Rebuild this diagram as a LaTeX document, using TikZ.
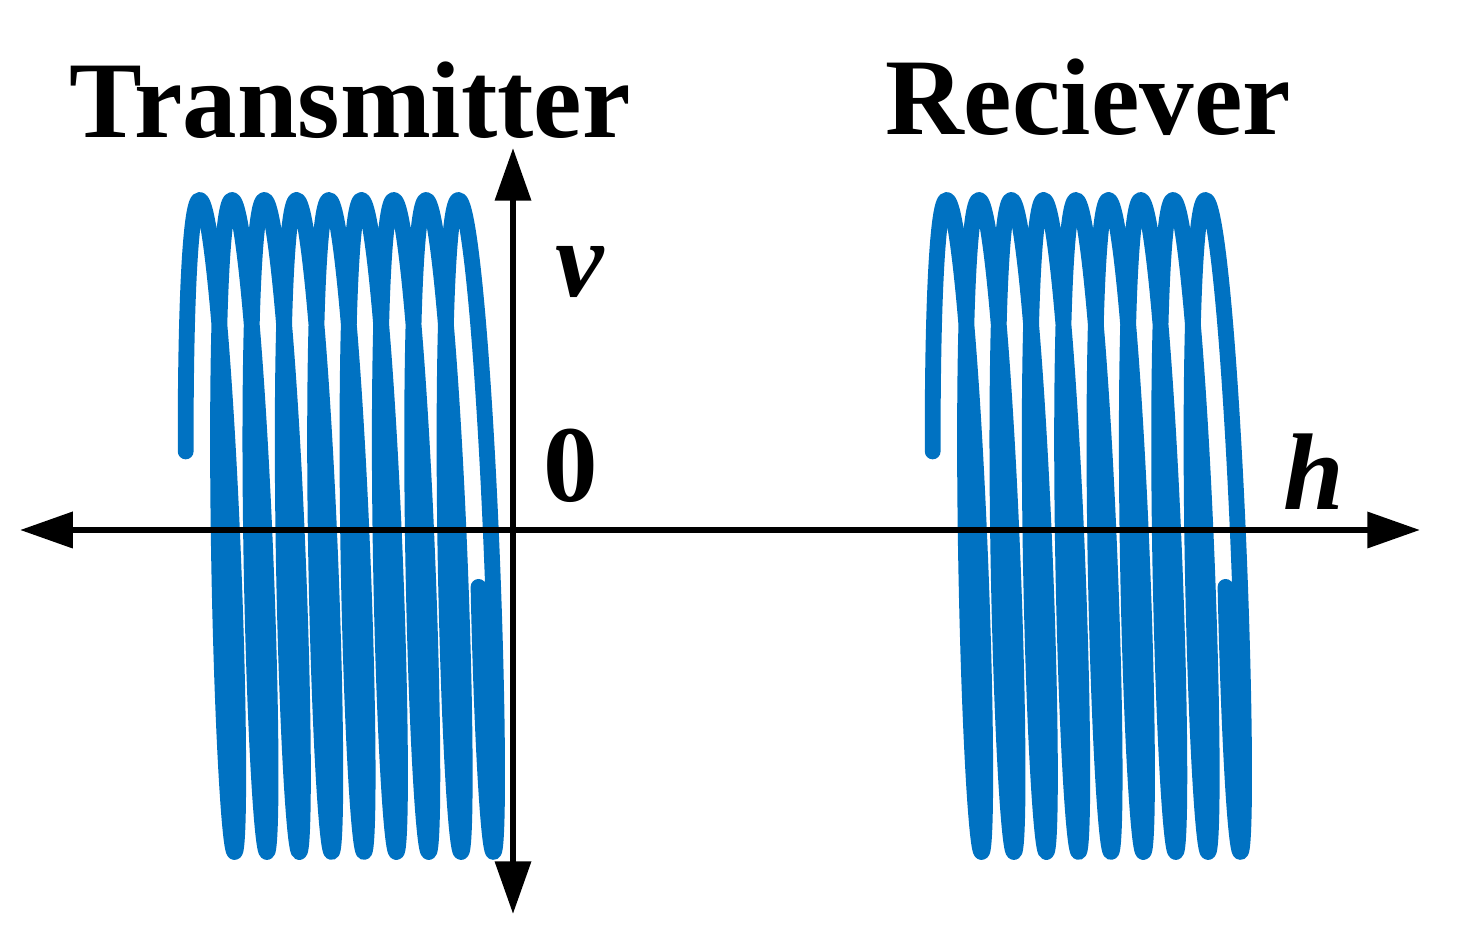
\documentclass[tikz,border=0pt]{standalone}
\usepackage{fontspec}
\setmainfont{Liberation Serif}
\usetikzlibrary{arrows.meta}
\definecolor{coilblue}{RGB}{0,114,194}
\tikzset{
coil/.style={draw=coilblue, line width=4.5pt, line cap=round, line join=round}, % the wire of each coil
axis/.style={line width=1.8pt, {Triangle[length=15pt,width=10pt]}-{Triangle[length=15pt,width=10pt]}}, % both axes
lbl/.style={font=\fontsize{31}{31}\selectfont\bfseries, inner sep=0pt}, % all texts
}
% a coil seen from the side, #1 = x of its first turn
\newcommand{\drawcoil}[1]{\draw[coil] plot[domain=-1.34:54.8, samples=1200, smooth] ({#1+5.15*\x+17.4*sin((\x-0.57) r)},{526-326*cos(\x r)});}

\begin{document}
\begin{tikzpicture}[x=0.01cm, y=-0.01cm]
    \useasboundingbox (0,0) rectangle (1463,946);
    \drawcoil{209}
    \drawcoil{956}
    \coordinate (hl) at (20,530);
    \coordinate (hr) at (1420,530);
    \coordinate (vt) at (513,148);
    \coordinate (vb) at (513,914);
    \draw[axis] (hl) -- (hr);
    \draw[axis] (vt) -- (vb);
    \node[lbl] (tx) at (350,100) {Transmitter};
    \node[lbl] (rx) at (1088,97) {Reciever};
    \node[lbl, font=\fontsize{31}{31}\selectfont\bfseries\itshape] (v) at (580,272) {v};
    \node[lbl] (zero) at (571,466) {0};
    \node[lbl, font=\fontsize{31}{31}\selectfont\bfseries\itshape] (h) at (1314,472) {h};
\end{tikzpicture}
\end{document}
